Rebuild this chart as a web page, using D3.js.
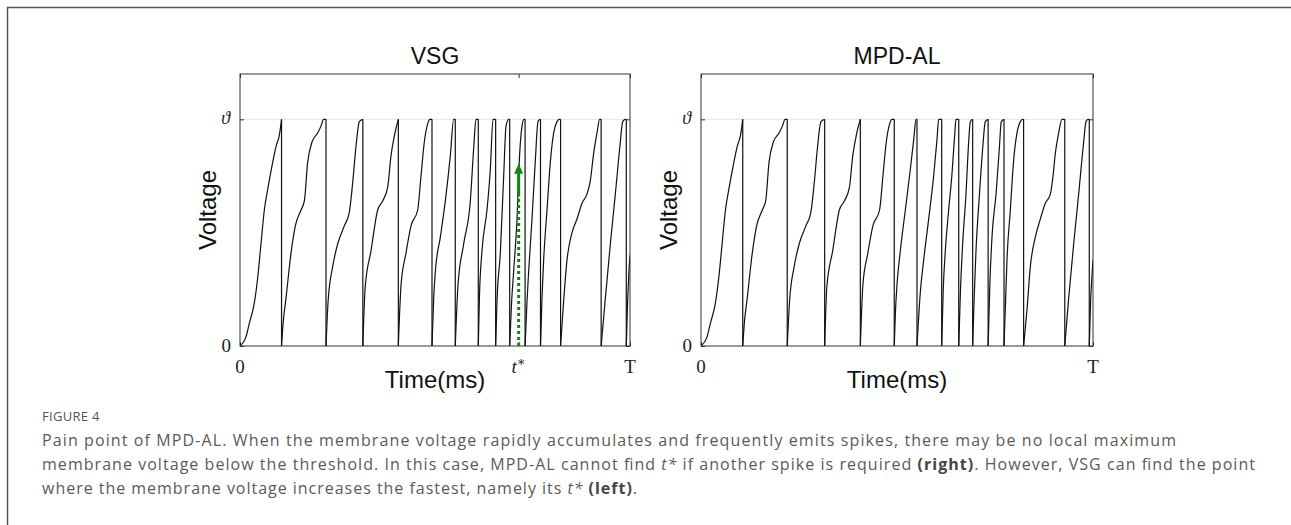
<!DOCTYPE html>
<html>
<head>
<meta charset="utf-8">
<script src="https://cdn.jsdelivr.net/npm/d3@7/dist/d3.min.js"></script>
<style>
  body { margin: 0; background: #fff; }
  svg { display: block; }
</style>
</head>
<body>
<svg id="chart" width="1291" height="525"></svg>
<script>
// ---- data (time in % of T, voltage in units of threshold) ----
const timeDomain = [0, 100];
const voltDomain = [0, 1.2];
const threshold = 1;
const tStar = 71.45;
const arrowLevels = { dottedTo: 0.66, shaftTo: 0.76, tip: 0.805 };

const vsgCycles = [
  [[0,0],[1.54,0.04],[2.39,0.1],[3.68,0.19],[4.53,0.3],[5.38,0.45],[6.24,0.6],[7.09,0.69],[8.38,0.81],[9.23,0.88],[10.09,0.93],[10.65,1]],
  [[10.65,0],[11.05,0.1],[11.79,0.21],[13.08,0.41],[14.19,0.53],[15.64,0.6],[16.5,0.64],[17.35,0.81],[18.46,0.9],[19.91,0.94],[20.77,0.97],[21.45,1],[22.05,1]],
  [[22.05,0],[22.6,0.2],[23.76,0.35],[25.04,0.45],[26.75,0.53],[28.03,0.59],[28.89,0.72],[29.74,0.88],[30.6,0.99],[31.5,1]],
  [[31.5,0],[32.1,0.26],[33.59,0.42],[35.3,0.6],[36.58,0.64],[37.86,0.7],[38.72,0.84],[39.74,0.94],[40.6,1]],
  [[40.6,0],[41.3,0.27],[42.56,0.41],[43.85,0.53],[45.56,0.6],[46.41,0.75],[47.26,0.9],[48.12,0.98],[48.72,1],[49.23,1]],
  [[49.23,0],[49.66,0.21],[50.09,0.33],[51.37,0.48],[52.65,0.64],[53.93,0.84],[54.79,1],[55.2,1]],
  [[55.2,0],[55.9,0.27],[57.35,0.45],[59.06,0.64],[59.91,0.87],[60.51,1],[61.1,1]],
  [[61.1,0],[61.4,0.22],[62.05,0.42],[63.33,0.6],[64.19,0.78],[64.87,1],[65.55,1]],
  [[65.55,0],[65.9,0.2],[66.75,0.41],[67.61,0.75],[68.21,0.97],[68.89,1],[69.15,1]],
  [[69.15,0],[69.6,0.18],[70.17,0.33],[71.03,0.56],[71.62,0.82],[72.31,0.97],[72.82,1],[73.1,1]],
  [[73.1,0],[73.6,0.2],[74.02,0.33],[74.87,0.56],[75.73,0.82],[76.41,0.99],[76.92,1],[77.05,1]],
  [[77.05,0],[77.45,0.22],[77.86,0.38],[78.72,0.6],[79.57,0.81],[80.43,0.94],[81.28,0.99],[81.88,1],[82.2,1]],
  [[82.2,0],[82.99,0.2],[83.85,0.38],[85.13,0.5],[86.41,0.56],[87.69,0.63],[88.97,0.67],[89.83,0.73],[90.68,0.85],[91.54,0.94],[92.22,1],[92.6,1]],
  [[92.6,0],[93.68,0.21],[94.96,0.45],[96.24,0.67],[97.52,0.9],[98.12,0.99],[98.8,1],[99.05,1]],
  [[99.05,0],[99.4,0.2],[99.7,0.32],[100,0.4]]
];

const mpdCycles = [
  [[0,0],[1.54,0.04],[2.39,0.1],[3.68,0.19],[4.53,0.3],[5.38,0.45],[6.24,0.6],[7.09,0.69],[8.38,0.81],[9.23,0.88],[10.09,0.93],[10.65,1]],
  [[10.65,0],[11.05,0.1],[11.79,0.21],[13.08,0.41],[14.19,0.53],[15.64,0.6],[16.5,0.64],[17.35,0.81],[18.46,0.9],[19.91,0.94],[20.77,0.97],[21.45,1],[22.0,1]],
  [[22.0,0],[22.6,0.2],[23.76,0.35],[25.04,0.45],[26.75,0.53],[28.03,0.59],[28.89,0.72],[29.74,0.88],[30.6,0.99],[31.55,1]],
  [[31.55,0],[32.1,0.26],[33.59,0.42],[35.3,0.6],[36.58,0.64],[37.86,0.7],[38.72,0.84],[39.74,0.94],[40.65,1]],
  [[40.65,0],[41.3,0.27],[42.56,0.41],[43.85,0.53],[45.56,0.6],[46.41,0.75],[47.26,0.9],[48.12,0.98],[48.72,1],[49.3,1]],
  [[49.3,0],[49.6,0.15],[50.0,0.27],[50.85,0.42],[52.13,0.6],[53.4,0.78],[54.26,0.91],[54.85,1],[55.1,1]],
  [[55.1,0],[55.96,0.24],[56.81,0.38],[58.08,0.56],[59.35,0.75],[60.2,0.91],[60.63,1],[61.4,1]],
  [[61.4,0],[61.8,0.25],[62.33,0.42],[63.18,0.6],[64.03,0.76],[64.71,0.93],[65.05,1],[65.75,1]],
  [[65.75,0],[66.2,0.25],[66.75,0.45],[67.6,0.67],[68.28,0.9],[68.71,0.99],[69.3,1]],
  [[69.3,0],[69.7,0.22],[70.15,0.42],[71.0,0.66],[71.85,0.87],[72.53,0.99],[73.25,1]],
  [[73.25,0],[73.7,0.28],[74.23,0.48],[75.26,0.67],[76.1,0.87],[76.61,0.99],[77.3,1]],
  [[77.3,0],[77.7,0.2],[78.06,0.38],[78.91,0.6],[79.76,0.82],[80.61,0.94],[81.46,0.99],[82.06,1],[82.3,1]],
  [[82.3,0],[83.16,0.16],[84.01,0.35],[85.29,0.48],[86.56,0.56],[87.84,0.63],[89.12,0.67],[89.8,0.75],[90.39,0.85],[91.24,0.94],[92.09,1],[92.8,1]],
  [[92.8,0],[93.79,0.21],[95.07,0.45],[96.34,0.67],[97.62,0.9],[98.21,0.99],[98.72,1],[99.05,1]],
  [[99.05,0],[99.4,0.2],[99.7,0.3],[100,0.38]]
];

const panelTitles = ["VSG", "MPD-AL"];
const xTicksVsg = [0, tStar, 100];
const xTicksMpd = [0, 100];
const yTicks = [0, threshold];

const captionLabel = "FIGURE 4";
const captionLines = [
  [["Pain point of MPD-AL. When the membrane voltage rapidly accumulates and frequently emits spikes, there may be no local maximum", ""]],
  [["membrane voltage below the threshold. In this case, MPD-AL cannot find ", ""], ["t*", "i"], [" if another spike is required ", ""], ["(right)", "b"], [". However, VSG can find the point", ""]],
  [["where the membrane voltage increases the fastest, namely its ", ""], ["t*", "i"], [" ", ""], ["(left)", "b"], [".", ""]]
];

// ---- layout ----
const plotTop = 74, plotBottom = 346;
const panels = [
  { title: panelTitles[0], cycles: vsgCycles, left: 240, right: 630, ticks: xTicksVsg, arrow: true },
  { title: panelTitles[1], cycles: mpdCycles, left: 701, right: 1093, ticks: xTicksMpd, arrow: false }
];
const sans = "'Liberation Sans', Arial, Helvetica, sans-serif";
const serif = "'Liberation Serif', 'DejaVu Serif', 'Times New Roman', serif";
const green = "#0a8a0a";

const svg = d3.select("#chart");
svg.append("rect").attr("width", 1291).attr("height", 525).attr("fill", "#fff");

// outer figure frame (left and top rule)
svg.append("path")
  .attr("d", "M7.5,525V7.5H1291")
  .attr("fill", "none")
  .attr("stroke", "#555")
  .attr("stroke-width", 1.5);

panels.forEach((p, i) => {
  const x = d3.scaleLinear().domain(timeDomain).range([p.left, p.right]);
  const y = d3.scaleLinear().domain(voltDomain).range([plotBottom, plotTop]);
  const g = svg.append("g");

  g.append("clipPath").attr("id", "clip" + i)
    .append("rect")
    .attr("x", p.left).attr("y", plotTop)
    .attr("width", p.right - p.left).attr("height", plotBottom - plotTop);

  // threshold line
  g.append("line")
    .attr("x1", p.left).attr("x2", p.right)
    .attr("y1", y(threshold)).attr("y2", y(threshold))
    .attr("stroke", "#e4e4e4").attr("stroke-width", 1);

  // membrane voltage trace
  const line = d3.line().x(d => x(d[0])).y(d => y(d[1])).curve(d3.curveMonotoneX);
  const trace = g.append("g").attr("clip-path", `url(#clip${i})`)
    .attr("fill", "none").attr("stroke", "#111").attr("stroke-width", 1.2);
  p.cycles.forEach(c => trace.append("path").attr("d", line(c)));
  p.cycles.slice(0, -1).forEach((c, k) => {
    const a = c[c.length - 1], b = p.cycles[k + 1][0];
    trace.append("line")
      .attr("x1", x(a[0])).attr("y1", y(a[1]))
      .attr("x2", x(b[0])).attr("y2", y(b[1]));
  });

  // ticks (inward), labels drawn separately
  const tickStyle = sel => {
    sel.select(".domain").remove();
    sel.selectAll(".tick line").attr("stroke", "#333");
  };
  g.append("g").attr("transform", `translate(0,${plotBottom})`)
    .call(d3.axisBottom(x).tickValues(p.ticks).tickSize(-4).tickFormat("")).call(tickStyle);
  g.append("g").attr("transform", `translate(0,${plotTop})`)
    .call(d3.axisTop(x).tickValues(p.ticks).tickSize(-4).tickFormat("")).call(tickStyle);
  g.append("g").attr("transform", `translate(${p.left},0)`)
    .call(d3.axisLeft(y).tickValues(yTicks).tickSize(-4).tickFormat("")).call(tickStyle);
  g.append("g").attr("transform", `translate(${p.right},0)`)
    .call(d3.axisRight(y).tickValues(yTicks).tickSize(-4).tickFormat("")).call(tickStyle);

  // plot box
  g.append("rect")
    .attr("x", p.left).attr("y", plotTop)
    .attr("width", p.right - p.left).attr("height", plotBottom - plotTop)
    .attr("fill", "none").attr("stroke", "#333").attr("stroke-width", 1);

  // green arrow at t*
  if (p.arrow) {
    const ax = x(tStar);
    g.append("line")
      .attr("x1", ax).attr("x2", ax)
      .attr("y1", y(0)).attr("y2", y(arrowLevels.dottedTo))
      .attr("stroke", green).attr("stroke-width", 3).attr("stroke-dasharray", "3,3");
    g.append("line")
      .attr("x1", ax).attr("x2", ax)
      .attr("y1", y(arrowLevels.dottedTo)).attr("y2", y(arrowLevels.shaftTo))
      .attr("stroke", green).attr("stroke-width", 3);
    g.append("path")
      .attr("d", `M${ax - 4.5},${y(arrowLevels.shaftTo)}L${ax},${y(arrowLevels.tip)}L${ax + 4.5},${y(arrowLevels.shaftTo)}Z`)
      .attr("fill", green);
  }

  // x tick labels
  p.ticks.forEach(t => {
    const txt = g.append("text")
      .attr("x", x(t)).attr("y", plotBottom + 27)
      .attr("text-anchor", "middle")
      .attr("font-family", serif).attr("font-size", 19).attr("fill", "#222");
    if (t === 0) txt.text("0");
    else if (t === 100) txt.text("T");
    else {
      txt.append("tspan").attr("font-style", "italic").text("t");
      txt.append("tspan").attr("font-size", 13).attr("dy", -7).text("∗");
    }
  });

  // y tick labels
  g.append("text").attr("x", p.left - 9).attr("y", y(0) + 6)
    .attr("text-anchor", "end").attr("font-family", serif).attr("font-size", 19).attr("fill", "#222")
    .text("0");
  g.append("text").attr("x", p.left - 10).attr("y", y(threshold) + 5)
    .attr("text-anchor", "end").attr("font-family", serif).attr("font-style", "italic")
    .attr("font-size", 18).attr("fill", "#222")
    .text("ϑ");

  // titles
  const cx = (p.left + p.right) / 2;
  g.append("text").attr("x", cx).attr("y", 64)
    .attr("text-anchor", "middle").attr("font-family", sans).attr("font-size", 23).attr("fill", "#111")
    .text(p.title);
  g.append("text").attr("x", cx).attr("y", 388)
    .attr("text-anchor", "middle").attr("font-family", sans).attr("font-size", 24).attr("fill", "#111")
    .text("Time(ms)");
  g.append("text")
    .attr("transform", `translate(${p.left - 24},${(plotTop + plotBottom) / 2}) rotate(-90)`)
    .attr("text-anchor", "middle").attr("font-family", sans).attr("font-size", 24).attr("fill", "#111")
    .text("Voltage");
});

// ---- caption ----
const capFont = "'Open Sans', Lato, 'Noto Sans', sans-serif";
svg.append("text")
  .attr("x", 42).attr("y", 421)
  .attr("font-family", capFont).attr("font-size", 13).attr("fill", "#555")
  .attr("letter-spacing", 0.3)
  .text(captionLabel);

const lineWidths = [1134, 1213, 595];
captionLines.forEach((parts, li) => {
  const t = svg.append("text")
    .attr("x", 42).attr("y", 446 + li * 24)
    .attr("font-family", capFont).attr("font-size", 16).attr("fill", "#5a5a5a")
    .attr("textLength", lineWidths[li]).attr("lengthAdjust", "spacing");
  parts.forEach(([s, style]) => {
    const ts = t.append("tspan").text(s);
    if (style === "i") ts.attr("font-style", "italic");
    if (style === "b") ts.attr("font-weight", "bold").attr("fill", "#444");
  });
});
</script>
</body>
</html>
